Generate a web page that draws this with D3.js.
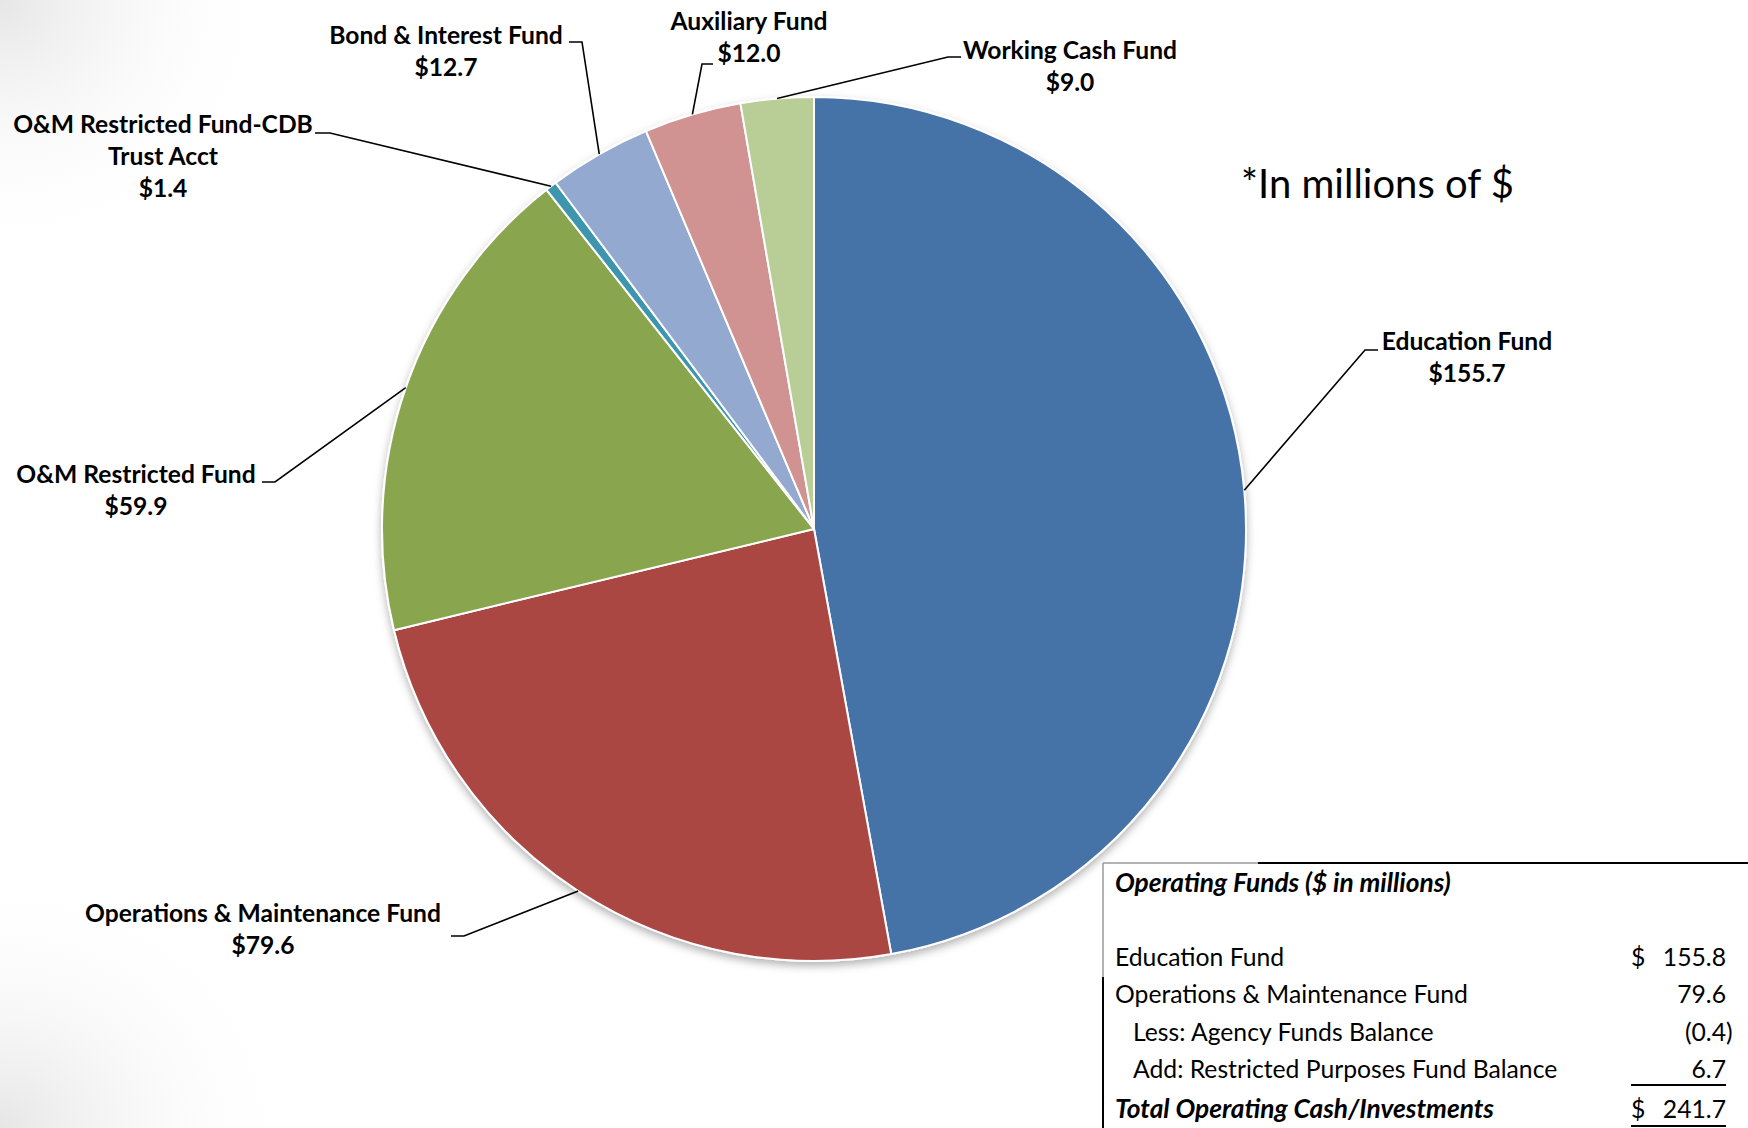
<!DOCTYPE html>
<html><head><meta charset="utf-8">
<script src="https://cdn.jsdelivr.net/npm/d3@7"></script>
<style>html,body{margin:0;padding:0;background:#fff;overflow:hidden}</style>
</head><body>
<svg id="chart" width="1748" height="1128"></svg>
<script>
// ---------- DATA ----------
const categories = ["Education Fund","Operations & Maintenance Fund","O&M Restricted Fund","O&M Restricted Fund-CDB Trust Acct","Bond & Interest Fund","Auxiliary Fund","Working Cash Fund"];
const values = [155.7, 79.6, 59.9, 1.4, 12.7, 12.0, 9.0];
const labelLines = [["Education Fund"],["Operations & Maintenance Fund"],["O&M Restricted Fund"],["O&M Restricted Fund-CDB","Trust Acct"],["Bond & Interest Fund"],["Auxiliary Fund"],["Working Cash Fund"]];
const colors = ["#4572A7","#AA4643","#89A54E","#3D96AE","#93A9CF","#D19392","#B9CD96"];
const noteText = "*In millions of $";
const tableTitle = "Operating Funds ($ in millions)";
const tableLabels = ["Education Fund","Operations & Maintenance Fund","Less: Agency Funds Balance","Add: Restricted Purposes Fund Balance"];
const tableValues = [155.8, 79.6, -0.4, 6.7];
const tableIndent = [false, false, true, true];
const tableTotalLabel = "Total Operating Cash/Investments";
const tableTotal = 241.7;

// ---------- LAYOUT ----------
const W = 1748, H = 1128;
const cx = 814, cy = 529, R = 432;
const FONT = "Lato, 'Open Sans', sans-serif";
// label layout: text centre x, first line centre y, leader elbow and end
const labelLayout = [
  {x:1467, y:341, elbow:[1365,350], end:[1378,350], line:0},
  {x:263,  y:913, elbow:[464,936],  end:[451,936]},
  {x:136,  y:474, elbow:[275,482],  end:[262,482]},
  {x:163,  y:124, elbow:[330,133],  end:[315,133]},
  {x:446,  y:35,  elbow:[582,42],   end:[569,42]},
  {x:749,  y:21,  elbow:[702,64],   end:[713,64]},
  {x:1070, y:50,  elbow:[948,57],   end:[961,57]}
];
const lineH = 32;

const svg = d3.select("#chart");

function fit(text, weight, style, target) {
  const t = svg.append("text").attr("font-family", FONT).attr("font-weight", weight)
    .attr("font-style", style).attr("font-size", 20).text(text);
  const w = t.node().getComputedTextLength();
  t.remove();
  return 20 * target / w;
}
const labelSize = fit("Operations & Maintenance Fund", 700, "normal", 356);
const noteSize = fit(noteText, 400, "normal", 273);
const tblSize = fit("Operations & Maintenance Fund", 400, "normal", 353);
const tblTitleSize = fit(tableTitle, 700, "italic", 336);

// ---------- BACKGROUND ----------
const defs = svg.append("defs");
const g1 = defs.append("radialGradient").attr("id","bgTL").attr("cx",0).attr("cy",0).attr("r",1);
g1.append("stop").attr("offset","0%").attr("stop-color","#e6e6e6").attr("stop-opacity",1);
g1.append("stop").attr("offset","100%").attr("stop-color","#ffffff").attr("stop-opacity",0);
const g2 = defs.append("radialGradient").attr("id","bgBL").attr("cx",0).attr("cy",1).attr("r",1);
g2.append("stop").attr("offset","0%").attr("stop-color","#e6e6e6").attr("stop-opacity",1);
g2.append("stop").attr("offset","100%").attr("stop-color","#ffffff").attr("stop-opacity",0);
svg.append("rect").attr("width",W).attr("height",H).attr("fill","#fff");
svg.append("rect").attr("x",0).attr("y",0).attr("width",280).attr("height",260).attr("fill","url(#bgTL)");
svg.append("rect").attr("x",0).attr("y",868).attr("width",300).attr("height",260).attr("fill","url(#bgBL)");

const filt = defs.append("filter").attr("id","shadow").attr("x","-10%").attr("y","-10%").attr("width","120%").attr("height","125%");
filt.append("feDropShadow").attr("dx",0).attr("dy",4).attr("stdDeviation",4)
  .attr("flood-color","#000").attr("flood-opacity",0.3);

// ---------- PIE ----------
const pie = d3.pie().sort(null).value(d => d)(values);
const arc = d3.arc().innerRadius(0).outerRadius(R);
const pg = svg.append("g").attr("transform",`translate(${cx},${cy})`);
pg.append("g").attr("filter","url(#shadow)")
  .selectAll("path").data(pie).join("path")
  .attr("d", arc).attr("fill", (d,i) => colors[i])
  .attr("stroke","#fff").attr("stroke-width",2).attr("stroke-linejoin","round");

// ---------- LEADERS & LABELS ----------
const lg = svg.append("g");
pie.forEach((d,i) => {
  const a = (d.startAngle + d.endAngle) / 2;
  const p = [cx + R*Math.sin(a), cy - R*Math.cos(a)];
  const L = labelLayout[i];
  lg.append("path")
    .attr("d", d3.line()([p, L.elbow, L.end]))
    .attr("fill","none").attr("stroke","#000").attr("stroke-width",1.6);
  const lines = labelLines[i].concat(["$" + d3.format(".1f")(values[i])]);
  const t = lg.append("text").attr("font-family",FONT).attr("font-weight",700)
    .attr("font-size",labelSize).attr("fill","#000").attr("text-anchor","middle");
  lines.forEach((s,k) => {
    t.append("tspan").attr("x",L.x).attr("y",L.y + k*lineH).attr("dy","0.36em").text(s);
  });
});

svg.append("text").attr("x",1241).attr("y",184).attr("dy","0.36em")
  .attr("font-family",FONT).attr("font-size",noteSize).attr("fill","#000").text(noteText);

// ---------- TABLE ----------
const tg = svg.append("g");
const tl = 1103, tt = 863;
tg.append("line").attr("x1",tl).attr("y1",tt).attr("x2",1258).attr("y2",tt).attr("stroke","#9a9a9a").attr("stroke-width",1.5);
tg.append("line").attr("x1",1258).attr("y1",tt).attr("x2",W).attr("y2",tt).attr("stroke","#000").attr("stroke-width",2);
tg.append("line").attr("x1",tl).attr("y1",tt).attr("x2",tl).attr("y2",977).attr("stroke","#9a9a9a").attr("stroke-width",1.5);
tg.append("line").attr("x1",tl).attr("y1",977).attr("x2",tl).attr("y2",H).attr("stroke","#000").attr("stroke-width",2);

tg.append("text").attr("x",1115).attr("y",883).attr("dy","0.36em")
  .attr("font-family",FONT).attr("font-weight",700).attr("font-style","italic")
  .attr("font-size",tblTitleSize).text(tableTitle);

const rowY = [957, 994, 1032, 1069];
const dollarX = 1631, numX = 1726;
const fmt = d3.format(".1f");
tableLabels.forEach((s,i) => {
  tg.append("text").attr("x", tableIndent[i] ? 1133 : 1115).attr("y",rowY[i]).attr("dy","0.36em")
    .attr("font-family",FONT).attr("font-size",tblSize).text(s);
  const v = tableValues[i];
  tg.append("text").attr("x",numX).attr("y",rowY[i]).attr("dy","0.36em").attr("text-anchor","end")
    .attr("font-family",FONT).attr("font-size",tblSize).text(v < 0 ? "(" + fmt(-v) : fmt(v));
  if (v < 0) tg.append("text").attr("x",numX).attr("y",rowY[i]).attr("dy","0.36em")
    .attr("font-family",FONT).attr("font-size",tblSize).text(")");
  if (i === 0) tg.append("text").attr("x",dollarX).attr("y",rowY[i]).attr("dy","0.36em")
    .attr("font-family",FONT).attr("font-size",tblSize).text("$");
});
tg.append("line").attr("x1",dollarX).attr("y1",1085).attr("x2",numX).attr("y2",1085).attr("stroke","#000").attr("stroke-width",2);
tg.append("text").attr("x",1115).attr("y",1109).attr("dy","0.36em")
  .attr("font-family",FONT).attr("font-weight",700).attr("font-style","italic")
  .attr("font-size",tblTitleSize).text(tableTotalLabel);
tg.append("text").attr("x",dollarX).attr("y",1109).attr("dy","0.36em")
  .attr("font-family",FONT).attr("font-size",tblSize).text("$");
tg.append("text").attr("x",numX).attr("y",1109).attr("dy","0.36em").attr("text-anchor","end")
  .attr("font-family",FONT).attr("font-size",tblSize).text(fmt(tableTotal));
tg.append("line").attr("x1",dollarX).attr("y1",1126).attr("x2",numX).attr("y2",1126).attr("stroke","#000").attr("stroke-width",2);
</script>
</body></html>
